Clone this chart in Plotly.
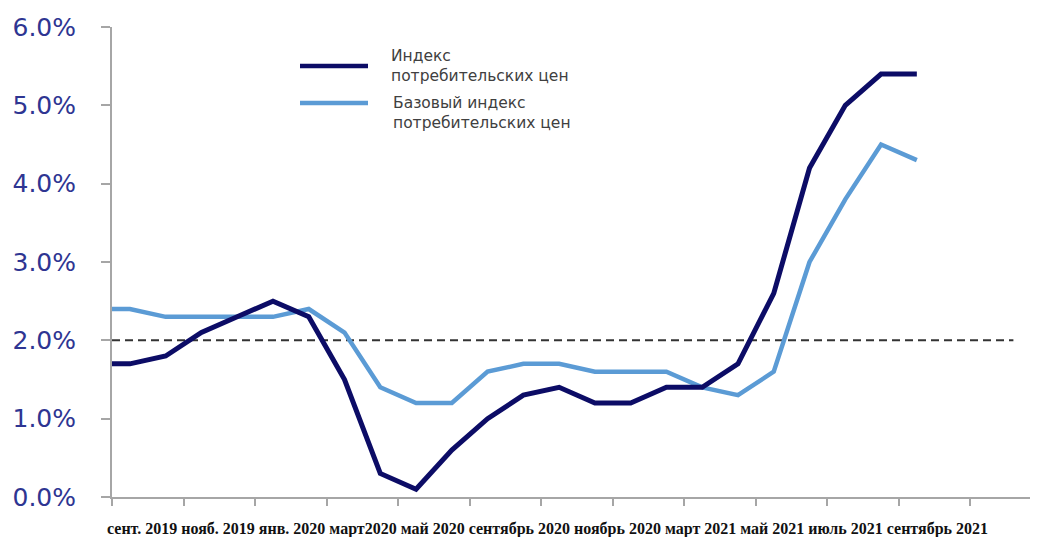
import plotly.graph_objects as go

# ---- data ----
months = [0, 0.5, 1.5, 2.5, 3.5, 4.5, 5.5, 6.5, 7.5, 8.5, 9.5, 10.5,
          11.5, 12.5, 13.5, 14.5, 15.5, 16.5, 17.5, 18.5, 19.5, 20.5, 21.5, 22.5]
cpi = [1.7, 1.7, 1.8, 2.1, 2.3, 2.5, 2.3, 1.5, 0.3, 0.1, 0.6, 1.0,
       1.3, 1.4, 1.2, 1.2, 1.4, 1.4, 1.7, 2.6, 4.2, 5.0, 5.4, 5.4]
core_cpi = [2.4, 2.4, 2.3, 2.3, 2.3, 2.3, 2.4, 2.1, 1.4, 1.2, 1.2, 1.6,
            1.7, 1.7, 1.6, 1.6, 1.6, 1.4, 1.3, 1.6, 3.0, 3.8, 4.5, 4.3]
target = 2.0
target_span = [0, 25.2]
x_ticks = [0, 2, 4, 6, 8, 10, 12, 14, 16, 18, 20, 22, 24]
y_ticks = [0, 1, 2, 3, 4, 5, 6]
y_tick_labels = ["0.0%", "1.0%", "2.0%", "3.0%", "4.0%", "5.0%", "6.0%"]
period_labels = ["сент. 2019", "нояб. 2019", "янв. 2020", "март2020", "май 2020",
                 "сентябрь 2020", "ноябрь 2020", "март 2021", "май 2021",
                 "июль 2021", "сентябрь 2021"]
series_names = ["Индекс<br>потребительских цен",
                "Базовый индекс<br>потребительских цен"]

DARK = "#0c0c66"
LIGHT = "#5b9bd5"

fig = go.Figure()
fig.add_trace(go.Scatter(x=target_span, y=[target, target], mode="lines",
                         line=dict(color="#333333", width=2, dash="8px,5px"),
                         hoverinfo="skip", showlegend=False))
fig.add_trace(go.Scatter(x=months, y=core_cpi, mode="lines",
                         line=dict(color=LIGHT, width=4.5),
                         name=series_names[1], showlegend=False))
fig.add_trace(go.Scatter(x=months, y=cpi, mode="lines",
                         line=dict(color=DARK, width=5),
                         name=series_names[0], showlegend=False))

# page is offset by the 8px body margin
OFF = 8
W, H = 1038 - OFF, 537 - OFF
L, R, T, B = 112 - OFF, 0, 27 - OFF, 40
pw, ph = W - L - R, H - T - B


def px(x):
    return (x - OFF - L) / pw


def py(y):
    return (H - B - (y - OFF)) / ph


# manual legend
for color, ys in ((DARK, 66), (LIGHT, 103)):
    fig.add_shape(type="line", xref="paper", yref="paper",
                  x0=px(300), x1=px(368), y0=py(ys), y1=py(ys),
                  line=dict(color=color, width=4.5))
for name, xs, ys in ((series_names[0], 389, 65.5), (series_names[1], 391, 112.5)):
    fig.add_annotation(xref="paper", yref="paper", x=px(xs), y=py(ys),
                       text=name, showarrow=False, xanchor="left", yanchor="middle",
                       align="left",
                       font=dict(family="DejaVu Sans", size=15.5, color="#404040"))

# period labels row
fig.add_annotation(xref="paper", yref="paper", x=px(105), y=py(529),
                   text="<b>" + " ".join(period_labels) + "</b>", showarrow=False,
                   xanchor="left", yanchor="middle",
                   font=dict(family="Liberation Serif", size=16, color="#111111"))

fig.update_layout(
    width=W, height=H,
    margin=dict(l=L, r=R, t=T, b=B),
    plot_bgcolor="white", paper_bgcolor="white",
    showlegend=False,
    xaxis=dict(range=[0, pw / 35.77], tickvals=x_ticks, showticklabels=False,
               showgrid=False, zeroline=False, showline=True, linecolor="#a6a6a6",
               linewidth=2, ticks="outside", ticklen=7, tickwidth=2, tickcolor="#a6a6a6"),
    yaxis=dict(range=[0, 6], tickvals=y_ticks, ticktext=y_tick_labels,
               showgrid=False, zeroline=False, showline=True, linecolor="#a6a6a6",
               linewidth=2, ticks="outside", ticklen=9, tickwidth=2, tickcolor="#a6a6a6",
               ticklabelstandoff=20,
               tickfont=dict(family="DejaVu Sans", size=25, color="#2e3592")),
)

fig.write_html("out.html")
